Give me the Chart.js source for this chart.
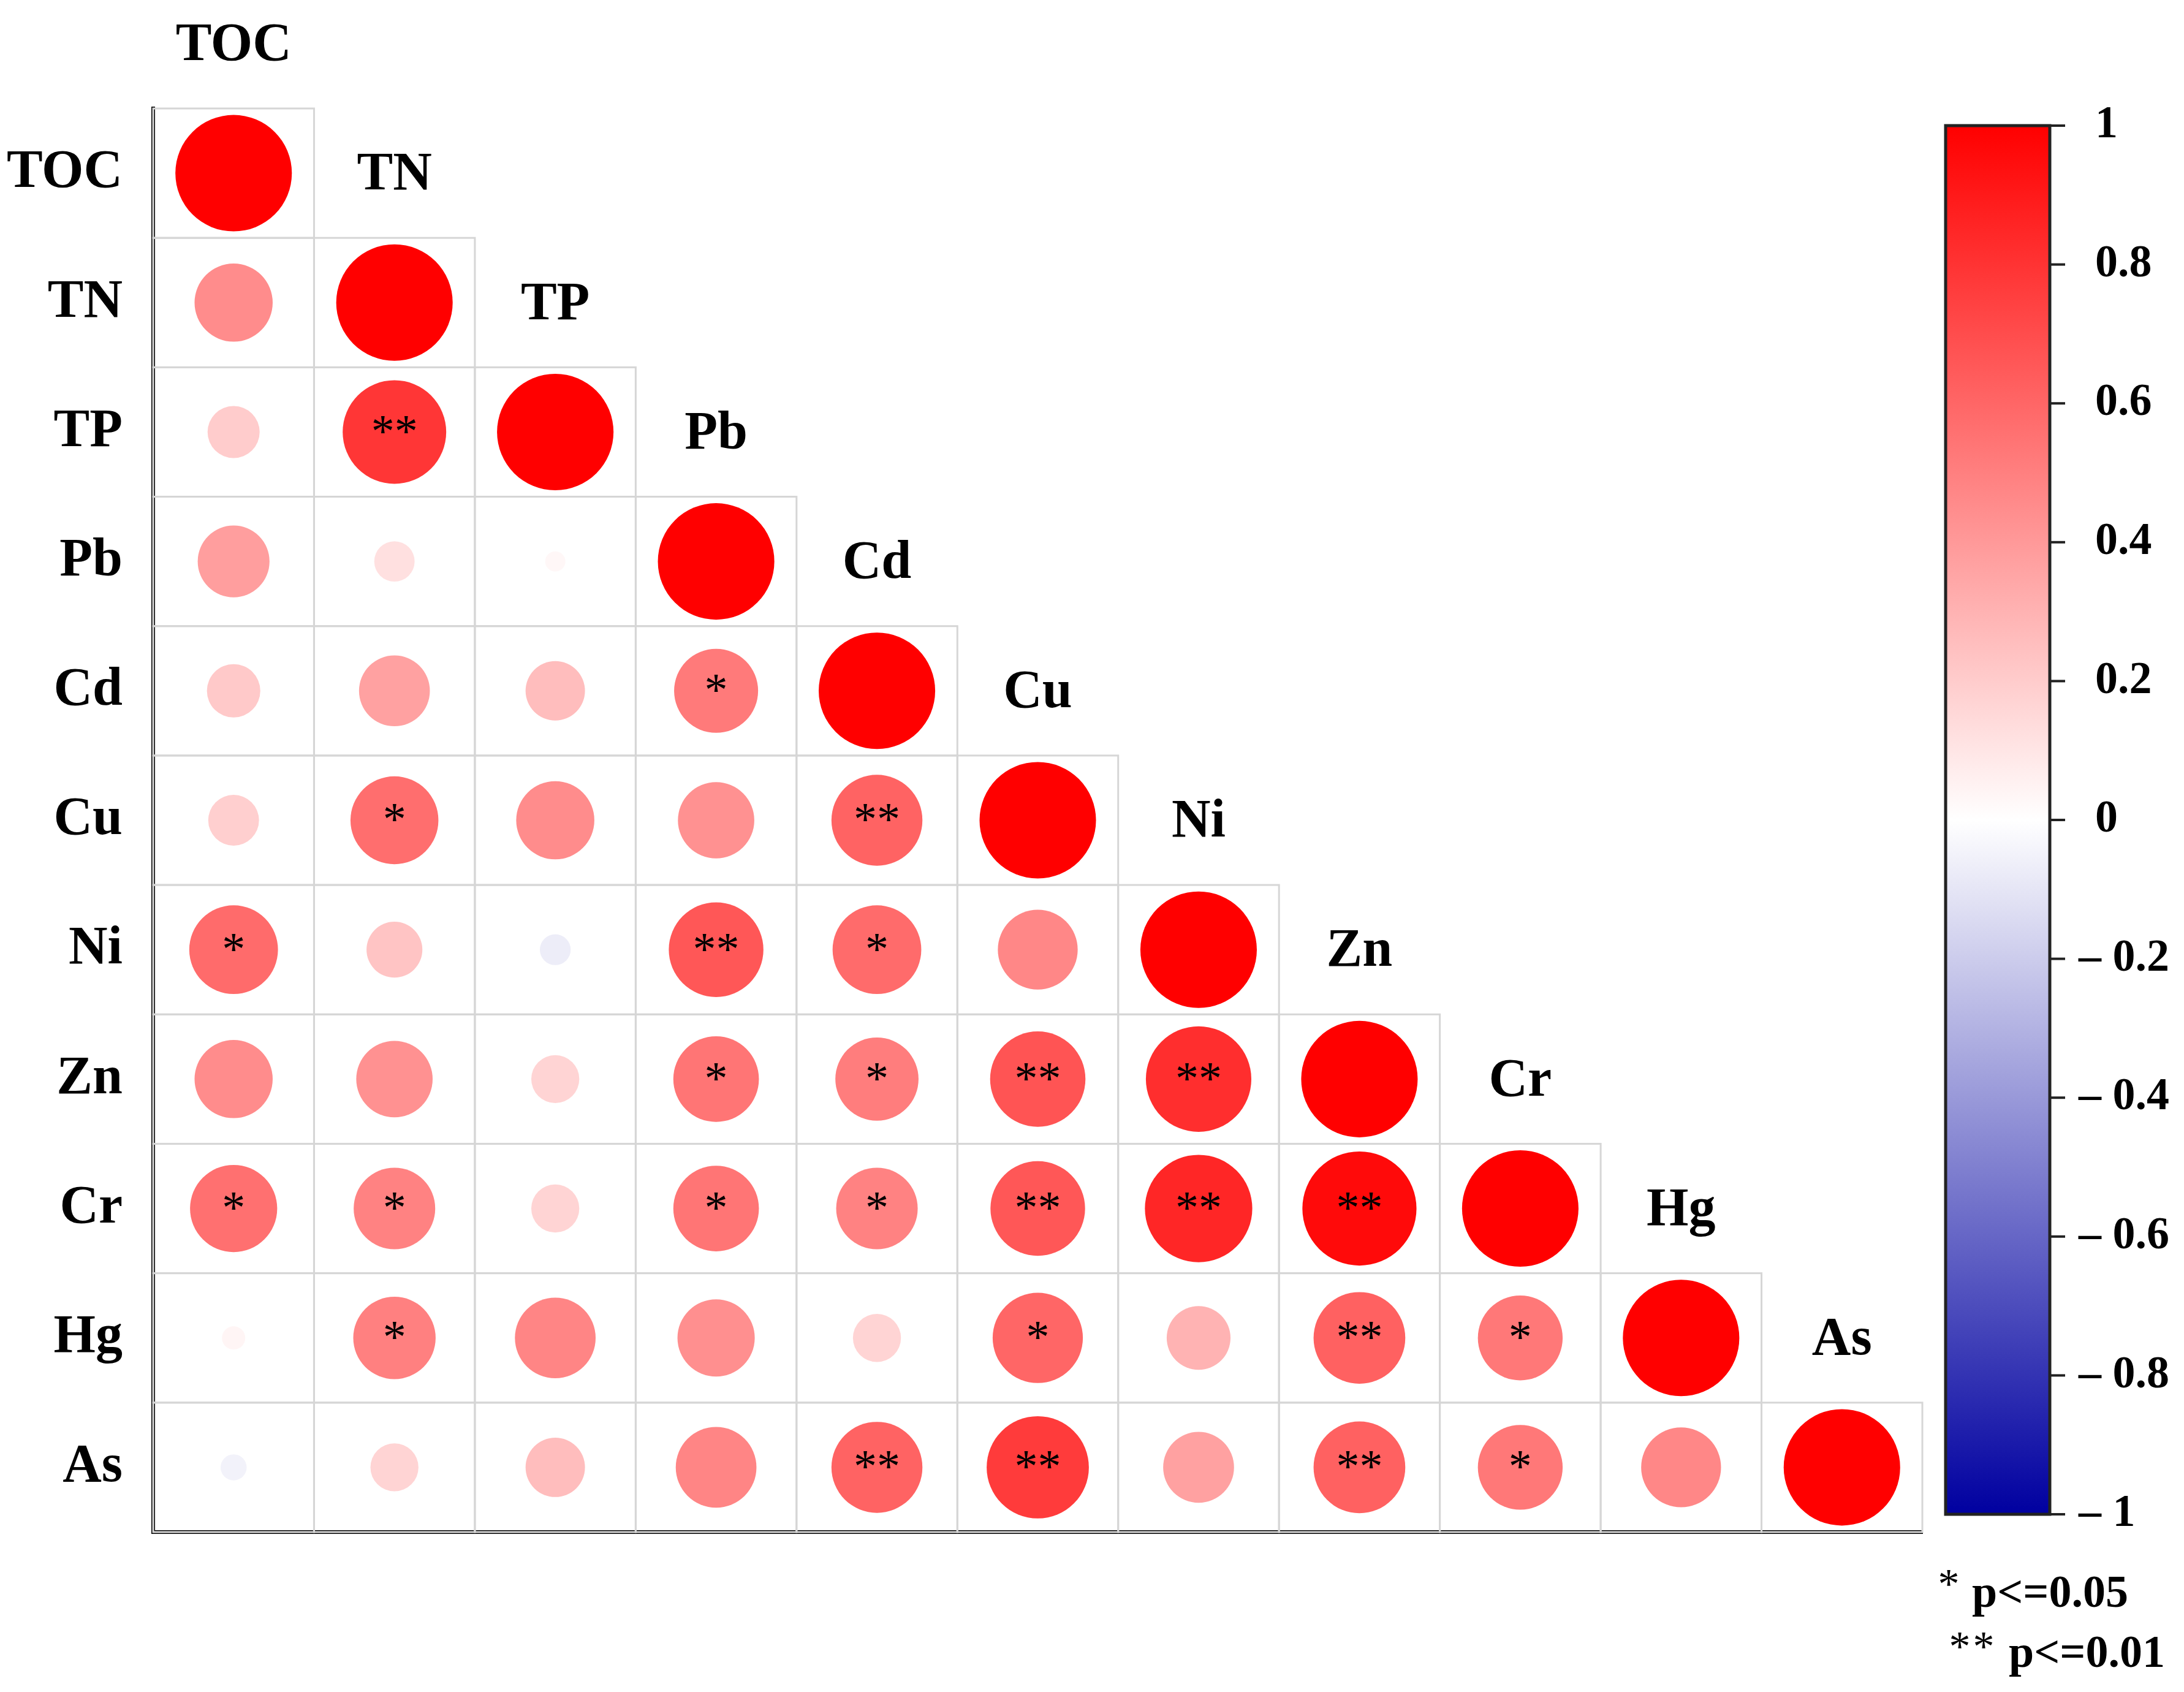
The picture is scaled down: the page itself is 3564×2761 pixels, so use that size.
<!DOCTYPE html>
<html>
<head>
<meta charset="utf-8">
<script src="https://cdn.jsdelivr.net/npm/chart.js@4.4.1/dist/chart.umd.min.js"></script>
<style>
  html, body { margin: 0; padding: 0; background: #fff; }
  #wrap { width: 3564px; height: 2761px; position: relative; }
</style>
</head>
<body>
<div id="wrap"><canvas id="corrChart"></canvas></div>
<script>
// variables (rows top to bottom, columns left to right)
const vars = ['TOC', 'TN', 'TP', 'Pb', 'Cd', 'Cu', 'Ni', 'Zn', 'Cr', 'Hg', 'As'];

// lower triangle of the correlation matrix
const corr = [
    [1],
    [0.45, 1],
    [0.20, 0.79, 1],
    [0.38, 0.12, 0.03, 1],
    [0.21, 0.37, 0.26, 0.52, 1],
    [0.19, 0.57, 0.45, 0.43, 0.61, 1],
    [0.58, 0.23, -0.07, 0.66, 0.58, 0.47, 1],
    [0.45, 0.43, 0.17, 0.54, 0.51, 0.67, 0.82, 1],
    [0.56, 0.49, 0.17, 0.54, 0.49, 0.66, 0.85, 0.96, 1],
    [0.04, 0.50, 0.48, 0.44, 0.17, 0.60, 0.30, 0.62, 0.53, 1],
    [-0.05, 0.17, 0.26, 0.48, 0.61, 0.77, 0.37, 0.62, 0.53, 0.47, 1]
];

// significance: 1 = p<=0.05, 2 = p<=0.01
const stars = [
    [0],
    [0, 0],
    [0, 2, 0],
    [0, 0, 0, 0],
    [0, 0, 0, 1, 0],
    [0, 1, 0, 0, 2, 0],
    [1, 0, 0, 2, 1, 0, 0],
    [0, 0, 0, 1, 1, 2, 2, 0],
    [1, 1, 0, 1, 1, 2, 2, 2, 0],
    [0, 1, 0, 0, 0, 1, 0, 2, 1, 0],
    [0, 0, 0, 0, 2, 2, 0, 2, 1, 0, 0]
];

const colorTicks = [1, 0.8, 0.6, 0.4, 0.2, 0, -0.2, -0.4, -0.6, -0.8, -1];
const legendStars = ['*', '**'];
const legendText = ['p<=0.05', 'p<=0.01'];

const serif = "'Liberation Serif', 'Times New Roman', serif";
const NEG = [0, 0, 160];

function corrColor(v) {
    if (v >= 0) {
        const g = Math.round(255 * (1 - v));
        return 'rgb(255,' + g + ',' + g + ')';
    }
    const a = -v;
    const r = Math.round(255 + (NEG[0] - 255) * a);
    const g = Math.round(255 + (NEG[1] - 255) * a);
    const b = Math.round(255 + (NEG[2] - 255) * a);
    return 'rgb(' + r + ',' + g + ',' + b + ')';
}

const points = [];
corr.forEach(function (row, i) {
    row.forEach(function (v, j) {
        points.push({ x: vars[j], y: vars[i], v: v });
    });
});

function cellSize(chart) {
    const xs = chart.scales.x, ys = chart.scales.y;
    return {
        w: Math.abs(xs.getPixelForValue(1) - xs.getPixelForValue(0)),
        h: Math.abs(ys.getPixelForValue(1) - ys.getPixelForValue(0))
    };
}

// cell borders of the lower triangle
const cellGrid = {
    id: 'cellGrid',
    beforeDatasetsDraw(chart) {
        const ctx = chart.ctx;
        const xs = chart.scales.x, ys = chart.scales.y;
        const c = cellSize(chart);
        ctx.save();
        ctx.strokeStyle = '#d6d6d6';
        ctx.lineWidth = 3;
        corr.forEach(function (row, i) {
            row.forEach(function (v, j) {
                const cx = xs.getPixelForValue(j), cy = ys.getPixelForValue(i);
                ctx.strokeRect(cx - c.w / 2, cy - c.h / 2, c.w, c.h);
            });
        });
        ctx.restore();
    }
};

// asterisks, diagonal names, colour bar and p-value note
const extras = {
    id: 'extras',
    afterDatasetsDraw(chart) {
        const ctx = chart.ctx;
        const xs = chart.scales.x, ys = chart.scales.y;
        const c = cellSize(chart);
        ctx.save();
        ctx.fillStyle = '#000';
        ctx.font = '76px ' + serif;
        ctx.textAlign = 'center';
        ctx.textBaseline = 'middle';
        corr.forEach(function (row, i) {
            row.forEach(function (v, j) {
                const n = stars[i][j];
                if (!n) return;
                const cx = xs.getPixelForValue(j), cy = ys.getPixelForValue(i) + 4;
                if (n === 1) {
                    ctx.fillText('*', cx, cy);
                } else {
                    ctx.fillText('*', cx - 19, cy);
                    ctx.fillText('*', cx + 19, cy);
                }
            });
        });

        // names along the diagonal, one cell above each diagonal circle
        ctx.font = 'bold 88px ' + serif;
        vars.forEach(function (name, i) {
            ctx.fillText(name, xs.getPixelForValue(i), ys.getPixelForValue(i) - c.h + 4);
        });

        // colour bar
        const area = chart.chartArea;
        const top = area.top + 28, bottom = area.bottom - 29;
        const left = area.right + 38, width = 170;
        const grad = ctx.createLinearGradient(0, top, 0, bottom);
        grad.addColorStop(0, corrColor(1));
        grad.addColorStop(0.5, corrColor(0));
        grad.addColorStop(1, corrColor(-1));
        ctx.fillStyle = grad;
        ctx.fillRect(left, top, width, bottom - top);
        ctx.strokeStyle = '#222';
        ctx.lineWidth = 5;
        ctx.strokeRect(left, top, width, bottom - top);

        ctx.font = 'bold 74px ' + serif;
        ctx.textAlign = 'left';
        ctx.fillStyle = '#000';
        ctx.lineWidth = 4;
        colorTicks.forEach(function (t) {
            const y = top + (1 - t) / 2 * (bottom - top);
            ctx.beginPath();
            ctx.moveTo(left + width, y);
            ctx.lineTo(left + width + 25, y);
            ctx.stroke();
            if (t < 0) {
                ctx.fillText('\u2013 ' + Math.abs(t), left + width + 47, y);
            } else {
                ctx.fillText(String(t), left + width + 74, y);
            }
        });

        // significance note
        ctx.textBaseline = 'alphabetic';
        ctx.font = 'bold 74px ' + serif;
        ctx.fillText(legendText[0], area.right + 81, area.bottom + 122);
        ctx.fillText(legendText[1], area.right + 141, area.bottom + 220);
        ctx.font = '70px ' + serif;
        ctx.textAlign = 'center';
        ctx.textBaseline = 'middle';
        ctx.fillText(legendStars[0], area.right + 43, area.bottom + 90);
        ctx.fillText('*', area.right + 61, area.bottom + 192);
        ctx.fillText('*', area.right + 100, area.bottom + 192);
        ctx.restore();
    }
};

const ctx = document.getElementById('corrChart').getContext('2d');

const corrChart = new Chart(ctx, {
    type: 'scatter',
    data: {
        datasets: [{
            data: points,
            pointBackgroundColor: function (context) {
                return context.raw ? corrColor(context.raw.v) : '#fff';
            },
            pointBorderWidth: 0,
            pointRadius: function (context) {
                if (!context.raw) return 0;
                const c = cellSize(context.chart);
                return 0.45 * Math.min(c.w, c.h) * Math.sqrt(Math.abs(context.raw.v));
            },
            showLine: false,
            clip: false
        }]
    },
    options: {
        responsive: true,
        maintainAspectRatio: false,
        animation: false,
        events: [],
        layout: {
            autoPadding: false,
            padding: { top: 177, right: 427, bottom: 261, left: 9 }
        },
        scales: {
            x: {
                type: 'category',
                labels: vars,
                offset: true,
                grid: { display: false, drawTicks: false },
                ticks: { display: false },
                border: { display: true, color: '#000', width: 6 }
            },
            y: {
                type: 'category',
                labels: vars,
                offset: true,
                grid: { display: false, drawTicks: false },
                ticks: {
                    color: '#000',
                    padding: 50,
                    font: { family: serif, size: 88, weight: 'bold' }
                },
                border: { display: true, color: '#000', width: 6 },
                afterFit: function (scale) {
                    scale.width = 241;
                }
            }
        },
        plugins: {
            legend: { display: false },
            tooltip: { enabled: false }
        }
    },
    plugins: [cellGrid, extras]
});
</script>
</body>
</html>
